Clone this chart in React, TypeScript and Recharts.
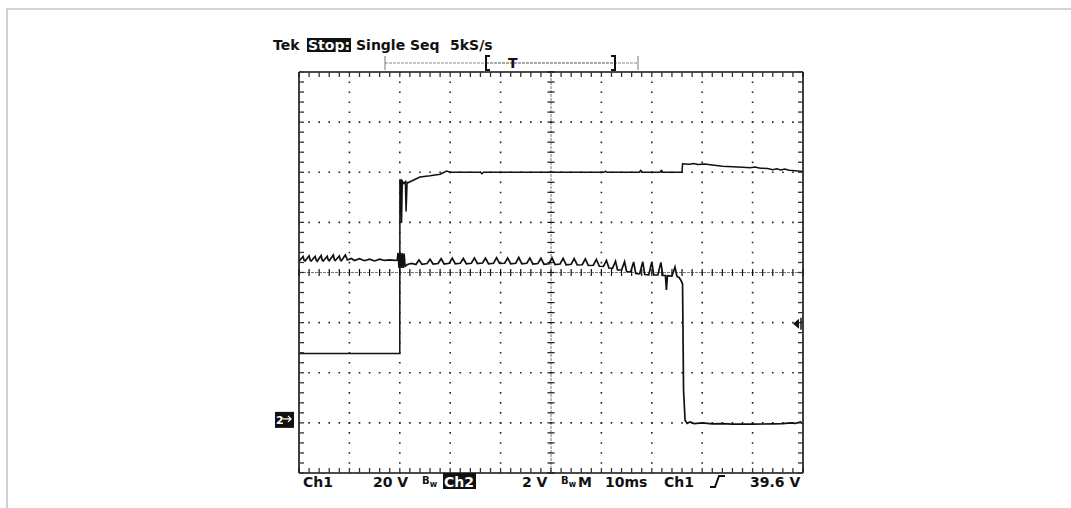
import React from "react";
import { LineChart, Line, XAxis, YAxis, ReferenceLine, ReferenceDot } from "recharts";

// Scope settings: 10 ms/div, Ch1 20 V/div, Ch2 2 V/div, both grounds 3 div below centre
const TIME_DOMAIN: [number, number] = [0, 100];
const CH1_DOMAIN: [number, number] = [-20, 140];
const CH2_DOMAIN: [number, number] = [-2, 14];
const TRIGGER_LEVEL = 39.6;

// Ch1 capture [ms, V]
const ch1Samples: [number, number][] = [
  [0, 27.7], [20.0, 27.7], [20.02, 96.9], [20.2, 96.9], [20.35, 79.8], [20.5, 96.5],
  [20.8, 95.5], [21.1, 96.2], [21.25, 84.3], [21.45, 96.0], [21.6, 95.8], [24, 98.1],
  [26, 98.6], [28, 99.2], [29.3, 100.5], [30, 100.0], [36.0, 100.0], [36.3, 99.4],
  [36.6, 100.0], [50, 100.0], [60.5, 100.0], [60.8, 100.4], [61.1, 100.0], [67.5, 100.0],
  [67.8, 100.7], [68.1, 100.0], [71.6, 100.0], [71.9, 100.7], [72.2, 100.0], [76.0, 100.0],
  [76.1, 103.4], [77.5, 103.2], [78.3, 103.5], [79.2, 103.1], [80.5, 103.3], [82, 102.9],
  [84, 102.4], [86, 102.2], [88, 102.0], [89.5, 101.8], [90.5, 102.1], [91.5, 101.6],
  [93, 101.5], [94, 101.0], [94.8, 101.4], [95.6, 100.9], [96.4, 101.3], [97.2, 100.8],
  [98.5, 100.6], [100, 100.3],
];

// Ch2 capture [ms, V]
const ch2Samples: [number, number][] = [
  [0, 6.45], [0.8, 6.64], [1.0, 6.5], [1.2, 6.46], [2.0, 6.66], [2.2, 6.5], [2.4, 6.46],
  [3.2, 6.64], [3.4, 6.5], [3.6, 6.45], [4.4, 6.68], [4.6, 6.5], [4.8, 6.46], [5.6, 6.65],
  [5.8, 6.5], [6.0, 6.47], [6.8, 6.7], [7.0, 6.52], [7.2, 6.48], [8.0, 6.66], [8.2, 6.5],
  [8.4, 6.47], [9.2, 6.7], [9.6, 6.5], [10.4, 6.56], [11, 6.48], [12, 6.55], [13, 6.47],
  [14, 6.53], [15, 6.46], [16, 6.53], [17, 6.48], [18, 6.5], [19, 6.48], [19.5, 6.5],
  [19.65, 6.78], [19.85, 6.18], [20.05, 6.78], [20.25, 6.18], [20.45, 6.78], [20.65, 6.18],
  [20.85, 6.76], [21.05, 6.25],
  [21.6, 6.33], [22.4, 6.36], [23.2, 6.32], [23.8, 6.5], [24.4, 6.33], [25.4, 6.36],
  [26.0, 6.53], [26.6, 6.34], [27.6, 6.36], [28.2, 6.55], [28.8, 6.34], [29.8, 6.37],
  [30.4, 6.57], [31.0, 6.35], [32.0, 6.37], [32.6, 6.56], [33.2, 6.35], [34.2, 6.37],
  [34.8, 6.58], [35.4, 6.36], [36.4, 6.38], [37.0, 6.57], [37.6, 6.35], [38.6, 6.37],
  [39.2, 6.59], [39.8, 6.36], [40.8, 6.37], [41.4, 6.58], [42.0, 6.35], [43.0, 6.37],
  [43.6, 6.6], [44.2, 6.35], [45.2, 6.37], [45.8, 6.58], [46.4, 6.34], [47.4, 6.36],
  [48.0, 6.57], [48.6, 6.33], [49.6, 6.35], [50.2, 6.58], [50.8, 6.32], [51.8, 6.34],
  [52.4, 6.56], [53.0, 6.31], [54.0, 6.33], [54.6, 6.55], [55.2, 6.3], [56.2, 6.31],
  [56.8, 6.54], [57.4, 6.28], [58.4, 6.29], [59.0, 6.52], [59.6, 6.25], [60.4, 6.24],
  [61.0, 6.48], [61.5, 6.18], [62.2, 6.17], [62.8, 6.45], [63.2, 6.1], [64.0, 6.1],
  [64.6, 6.43], [65.0, 6.04], [65.8, 6.03], [66.4, 6.42], [66.8, 5.96], [67.6, 5.95],
  [68.2, 6.43], [68.6, 5.92], [69.4, 5.91], [70.0, 6.42], [70.4, 5.9], [71.2, 5.9],
  [71.8, 6.4], [72.2, 5.88], [72.7, 5.88], [72.9, 5.3], [73.1, 5.87], [74.0, 5.86],
  [74.6, 6.22], [75.0, 5.84], [75.4, 5.8], [75.8, 5.68], [76.1, 5.55], [76.3, 1.3],
  [76.6, 0.11], [77.0, -0.02], [77.6, 0.04], [78.4, -0.03], [80, 0.0], [82, -0.04],
  [84, -0.03], [86, -0.05], [90, -0.05], [94, -0.04], [96, -0.03], [97.5, 0.0],
  [98.5, -0.02], [99.5, 0.04], [100, -0.04],
];

const headerText = ["Tek", "Stop:", "Single Seq", "5kS/s"];
const footerText = ["Ch1", "20 V", "Ch2", "2 V", "M", "10ms", "Ch1", "39.6 V"];

// graticule: 10 x 8 divisions, 5 minor ticks per division
const timeMinor = Array.from({ length: 51 }, (_, i) => i * 2);
const ch1Minor = Array.from({ length: 41 }, (_, i) => -20 + i * 4);
const ch2Minor = Array.from({ length: 41 }, (_, i) => -2 + i * 0.4);
const timeMajor = [10, 20, 30, 40, 60, 70, 80, 90];
const ch1Major = [0, 20, 40, 80, 100, 120];
const CENTER_T = 50;
const CENTER_V1 = 60;

const ch1Data = ch1Samples.map(([t, v]) => ({ t, v }));
const ch2Data = ch2Samples.map(([t, v]) => ({ t, v }));

const INK = "#111";
const FONT = "'DejaVu Sans', Verdana, sans-serif";

/* eslint-disable @typescript-eslint/no-explicit-any */
const TriggerMarker = ({ cx, cy }: any) => (
  <g>
    <polygon points={`${cx - 10},${cy} ${cx - 4},${cy - 5} ${cx - 4},${cy + 5}`} fill={INK} />
    <line x1={cx - 2} y1={cy - 6} x2={cx - 2} y2={cy + 6} stroke={INK} strokeWidth={1.5} />
  </g>
);

const GroundMarker = ({ cx, cy }: any) => (
  <g>
    <rect x={cx - 24} y={cy - 11} width={19} height={16} fill={INK} />
    <text x={cx - 23} y={cy + 1} fill="#fff" fontSize={11} fontWeight={700} fontFamily={FONT}>2</text>
    <path d={`M${cx - 16},${cy - 4} L${cx - 8},${cy - 4} M${cx - 11},${cy - 7} L${cx - 8},${cy - 4} L${cx - 11},${cy - 1}`} stroke="#fff" strokeWidth={1.3} fill="none" />
  </g>
);
/* eslint-enable @typescript-eslint/no-explicit-any */

const BwSymbol = ({ x }: { x: number }) => (
  <text x={x} y={484} fontSize={10} fontWeight={700} fontFamily={FONT} fill={INK}>
    B<tspan fontSize={8} dy={3}>w</tspan>
  </text>
);

function Overlay() {
  const txt = { fontFamily: FONT, fontWeight: 700, fontSize: 14, fill: INK } as const;
  return (
    <svg width={1071} height={508} style={{ position: "absolute", left: 0, top: 0, pointerEvents: "none" }}>
      {/* page frame */}
      <path d="M7,508 L7,9 L1071,9" stroke="#b9cad2" strokeWidth={1.6} fill="none" />

      {/* status line */}
      <text x={273} y={49.5} {...txt}>{headerText[0]}</text>
      <rect x={307} y={38} width={44} height={14} fill={INK} />
      <text x={308} y={49.5} {...txt} fill="#fff">{headerText[1]}</text>
      <text x={356} y={49.5} {...txt}>{headerText[2]}</text>
      <text x={450} y={49.5} {...txt}>{headerText[3]}</text>

      {/* record view bar */}
      <line x1={385} y1={63} x2={486} y2={63} stroke="#8a8a8a" strokeWidth={1} strokeDasharray="3 1" />
      <line x1={486} y1={63} x2={614} y2={63} stroke="#555" strokeWidth={1} strokeDasharray="3 1" />
      <line x1={614} y1={63} x2={638} y2={63} stroke="#8a8a8a" strokeWidth={1} strokeDasharray="3 1" />
      <line x1={385} y1={56} x2={385} y2={70} stroke="#777" strokeWidth={1} />
      <line x1={638} y1={56} x2={638} y2={70} stroke="#777" strokeWidth={1} />
      <path d="M490,56 L486,56 L486,70 L490,70" stroke={INK} strokeWidth={2} fill="none" />
      <path d="M611,56 L615,56 L615,70 L611,70" stroke={INK} strokeWidth={2} fill="none" />
      <text x={508} y={68} {...txt}>T</text>

      {/* readout line */}
      <text x={303} y={487} {...txt}>{footerText[0]}</text>
      <text x={373} y={487} {...txt}>{footerText[1]}</text>
      <BwSymbol x={422} />
      <rect x={443} y={473} width={33} height={16} fill={INK} />
      <text x={444} y={487} {...txt} fill="#fff">{footerText[2]}</text>
      <text x={522} y={487} {...txt}>{footerText[3]}</text>
      <BwSymbol x={561} />
      <text x={578} y={487} {...txt}>{footerText[4]}</text>
      <text x={605} y={487} {...txt}>{footerText[5]}</text>
      <text x={664} y={487} {...txt}>{footerText[6]}</text>
      <path d="M710,487 L715,487 L719,476 L725,476" stroke={INK} strokeWidth={2} fill="none" />
      <text x={750} y={487} {...txt}>{footerText[7]}</text>
    </svg>
  );
}

export default function App() {
  const border = { stroke: INK, strokeWidth: 1.6 };
  const tickLine = { stroke: "#333", strokeWidth: 1.3 };
  // empty tick label keeps the inward tick lines while drawing no text
  const noLabel = <g />;
  return (
    <div style={{ position: "absolute", left: 0, top: 0, width: 1071, height: 508, background: "#fff" }}>
      <LineChart
        width={1071}
        height={508}
        margin={{ top: 72, right: 268, bottom: 35, left: 299 }}
      >
        <XAxis xAxisId="b" type="number" dataKey="t" domain={TIME_DOMAIN} ticks={timeMinor} interval={0}
          orientation="bottom" mirror tick={noLabel} tickSize={5} axisLine={border} tickLine={tickLine} allowDataOverflow />
        <XAxis xAxisId="top" type="number" dataKey="t" domain={TIME_DOMAIN} ticks={timeMinor} interval={0}
          orientation="top" mirror tick={noLabel} tickSize={5} axisLine={border} tickLine={tickLine} allowDataOverflow />
        <YAxis yAxisId="ch1" type="number" domain={CH1_DOMAIN} ticks={ch1Minor} interval={0}
          orientation="left" mirror tick={noLabel} tickSize={5} axisLine={border} tickLine={tickLine} allowDataOverflow />
        <YAxis yAxisId="ch2" type="number" domain={CH2_DOMAIN} ticks={ch2Minor} interval={0}
          orientation="right" mirror tick={noLabel} tickSize={5} axisLine={border} tickLine={tickLine} allowDataOverflow />

        {/* dotted major graticule */}
        {timeMajor.map((t) => (
          <ReferenceLine key={`gx${t}`} xAxisId="b" yAxisId="ch1" x={t} stroke="#222" strokeWidth={1.6}
            strokeDasharray="1.6 8.42" strokeDashoffset={0.8} />
        ))}
        {ch1Major.map((v) => (
          <ReferenceLine key={`gy${v}`} xAxisId="b" yAxisId="ch1" y={v} stroke="#222" strokeWidth={1.6}
            strokeDasharray="1.6 8.48" strokeDashoffset={0.8} />
        ))}

        {/* centre axes with minor ticks */}
        <ReferenceLine xAxisId="b" yAxisId="ch1" x={CENTER_T} stroke="#777" strokeWidth={1} strokeDasharray="3 1" />
        <ReferenceLine xAxisId="b" yAxisId="ch1" y={CENTER_V1} stroke="#777" strokeWidth={1} strokeDasharray="3 1" />
        {timeMinor.map((t) => (
          <ReferenceLine key={`cx${t}`} xAxisId="b" yAxisId="ch1"
            segment={[{ x: t, y: CENTER_V1 - 1.4 }, { x: t, y: CENTER_V1 + 1.4 }]} stroke={INK} strokeWidth={1.2} />
        ))}
        {ch1Minor.map((v) => (
          <ReferenceLine key={`cy${v}`} xAxisId="b" yAxisId="ch1"
            segment={[{ x: CENTER_T - 0.7, y: v }, { x: CENTER_T + 0.7, y: v }]} stroke={INK} strokeWidth={1.2} />
        ))}

        <Line xAxisId="b" yAxisId="ch1" data={ch1Data} dataKey="v" type="linear" stroke={INK}
          strokeWidth={1.5} dot={false} isAnimationActive={false} />
        <Line xAxisId="b" yAxisId="ch2" data={ch2Data} dataKey="v" type="linear" stroke={INK}
          strokeWidth={1.7} dot={false} isAnimationActive={false} />

        <ReferenceDot xAxisId="b" yAxisId="ch1" x={100} y={TRIGGER_LEVEL} r={0}
          shape={(p: any) => <TriggerMarker cx={p.cx} cy={p.cy} />} />
        <ReferenceDot xAxisId="b" yAxisId="ch2" x={0} y={0} r={0}
          shape={(p: any) => <GroundMarker cx={p.cx} cy={p.cy} />} />
      </LineChart>
      <Overlay />
    </div>
  );
}
